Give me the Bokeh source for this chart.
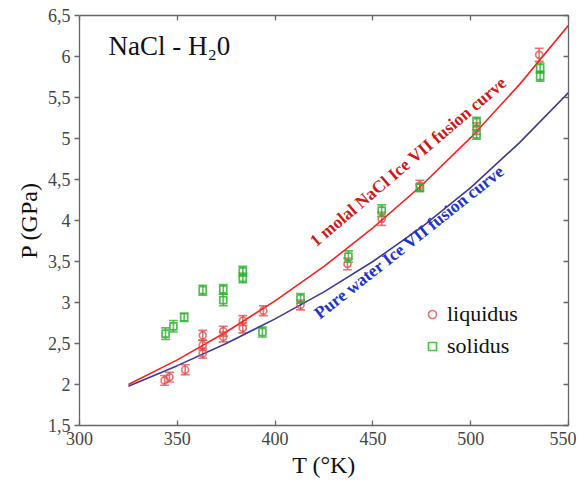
from bokeh.plotting import figure
from bokeh.models import (ColumnDataSource, Whisker, LinearAxis, Range1d, Legend,
                          LegendItem, FixedTicker, TeeHead)
from bokeh.core.properties import value
from bokeh.embed import file_html
from bokeh.resources import INLINE

# ---- data ----
liq_T = [343.5, 346, 354, 363, 363, 363, 373.5, 373.5, 383.5, 383.5, 394, 413, 437, 454.5, 474, 503, 535]
liq_P = [2.05, 2.09, 2.18, 2.38, 2.48, 2.60, 2.58, 2.65, 2.69, 2.78, 2.90, 2.97, 3.47, 4.02, 4.43, 5.12, 6.02]
liq_err = [0.06, 0.06, 0.06, 0.06, 0.06, 0.06, 0.06, 0.06, 0.06, 0.06, 0.06, 0.06, 0.07, 0.08, 0.06, 0.07, 0.08]

sol_T = [344, 348, 353.5, 363, 373.5, 373.5, 383.5, 383.5, 393.5, 413, 437.5, 454.5, 474, 503, 503, 535.5, 535.5]
sol_P = [2.62, 2.71, 2.82, 3.15, 3.03, 3.16, 3.30, 3.38, 2.64, 3.05, 3.56, 4.12, 4.40, 5.05, 5.20, 5.76, 5.86]
sol_err = [0.07, 0.07, 0.05, 0.06, 0.07, 0.06, 0.06, 0.06, 0.06, 0.06, 0.07, 0.07, 0.05, 0.06, 0.06, 0.06, 0.06]

curve_T = [325, 350, 375, 400, 425, 450, 475, 500, 525, 550]
nacl_curve_P = [2.00, 2.30, 2.64, 3.02, 3.44, 3.91, 4.43, 5.01, 5.66, 6.38]
pure_curve_P = [1.98, 2.23, 2.50, 2.80, 3.13, 3.50, 3.92, 4.40, 4.95, 5.56]

x_ticks = [300, 350, 400, 450, 500, 550]
y_ticks = [1.5, 2, 2.5, 3, 3.5, 4, 4.5, 5, 5.5, 6, 6.5]
y_tick_labels = ["1,5", "2", "2,5", "3", "3,5", "4", "4,5", "5", "5,5", "6", "6,5"]

title_text = "NaCl - H\u20820"
nacl_label = "1 molal NaCl Ice VII fusion curve"
pure_label = "Pure water Ice VII fusion curve"

SERIF = "Liberation Serif"
AXIS_COL = "#666666"
LBL_COL = "#444444"

p = figure(width=576, height=485, x_range=Range1d(300, 550), y_range=Range1d(1.5, 6.5),
           output_backend="svg", toolbar_location=None,
           min_border_left=79, min_border_right=8, min_border_top=15, min_border_bottom=60)
p.grid.visible = False
p.outline_line_color = None
p.background_fill_color = "white"

# main axes
for ax in (p.xaxis[0], p.yaxis[0]):
    ax.axis_line_color = AXIS_COL
    ax.axis_line_width = 1.3
    ax.major_tick_line_color = AXIS_COL
    ax.major_tick_line_width = 1.3
    ax.minor_tick_line_color = None
    ax.major_label_text_font = SERIF
    ax.major_label_text_font_size = "18px"
    ax.major_label_text_color = LBL_COL
    ax.axis_label_text_font = SERIF
    ax.axis_label_text_font_size = "24px"
    ax.axis_label_text_font_style = "normal"
    ax.axis_label_text_color = "#111111"

p.xaxis.ticker = FixedTicker(ticks=x_ticks)
p.xaxis.major_tick_in = 5
p.xaxis.major_tick_out = 0
p.xaxis.major_label_standoff = 6
p.xaxis.axis_label = "T (\u00b0K)"
p.xaxis.axis_label_standoff = 4

p.yaxis.ticker = FixedTicker(ticks=y_ticks)
p.yaxis.major_label_overrides = {t: l for t, l in zip(y_ticks, y_tick_labels)}
p.yaxis.major_tick_in = 0
p.yaxis.major_tick_out = 5
p.yaxis.major_label_standoff = 4
p.yaxis.axis_label = "P (GPa)"
p.yaxis.axis_label_standoff = 3

# frame axes (top / right) with inward ticks
top = LinearAxis(ticker=FixedTicker(ticks=x_ticks), major_tick_in=5, major_tick_out=0,
                 major_label_text_font_size="1px", major_label_standoff=0,
                 major_label_text_alpha=0, axis_line_color=AXIS_COL, axis_line_width=1.3,
                 major_tick_line_color=AXIS_COL, major_tick_line_width=1.3,
                 minor_tick_line_color=None)
right = LinearAxis(ticker=FixedTicker(ticks=y_ticks), major_tick_in=5, major_tick_out=0,
                   major_label_text_font_size="1px", major_label_standoff=0,
                   major_label_text_alpha=0, axis_line_color=AXIS_COL, axis_line_width=1.3,
                   major_tick_line_color=AXIS_COL, major_tick_line_width=1.3,
                   minor_tick_line_color=None)
p.add_layout(top, "above")
p.add_layout(right, "right")

# fusion curves
p.line(curve_T, nacl_curve_P, line_color="#ff1f1f", line_width=1.6)
p.line(curve_T, pure_curve_P, line_color="#3c3c96", line_width=1.6)

# data with error bars
liq_src = ColumnDataSource(dict(T=liq_T, P=liq_P,
                                up=[a + e for a, e in zip(liq_P, liq_err)],
                                lo=[a - e for a, e in zip(liq_P, liq_err)]))
sol_src = ColumnDataSource(dict(T=sol_T, P=sol_P,
                                up=[a + e for a, e in zip(sol_P, sol_err)],
                                lo=[a - e for a, e in zip(sol_P, sol_err)]))

RED = "#e04a4a"
GREEN = "#2fb12f"

p.add_layout(Whisker(source=liq_src, base="T", upper="up", lower="lo",
                     line_color=RED, line_alpha=0.75, line_width=1.6,
                     upper_head=TeeHead(size=9, line_color=RED, line_alpha=0.75, line_width=1.6),
                     lower_head=TeeHead(size=9, line_color=RED, line_alpha=0.75, line_width=1.6)))
p.add_layout(Whisker(source=sol_src, base="T", upper="up", lower="lo",
                     line_color=GREEN, line_alpha=0.8, line_width=1.6,
                     upper_head=TeeHead(size=9, line_color=GREEN, line_alpha=0.8, line_width=1.6),
                     lower_head=TeeHead(size=9, line_color=GREEN, line_alpha=0.8, line_width=1.6)))

r_liq = p.scatter("T", "P", source=liq_src, marker="circle", size=7, fill_color=None,
                  line_color=RED, line_alpha=0.75, line_width=1.7)
r_sol = p.scatter("T", "P", source=sol_src, marker="square", size=7, fill_color=None,
                  line_color=GREEN, line_alpha=0.85, line_width=1.7)

# text annotations
p.text(x=[314.8], y=[6.13], text=[title_text], text_font=value(SERIF), text_font_size="27px",
       text_color="#111111", text_align="left", text_baseline="middle")
p.text(x=[468.0], y=[4.72], text=[nacl_label], text_font=value(SERIF), text_font_size="17.5px",
       text_font_style="bold", text_color="#d01818", text_align="center",
       text_baseline="middle", angle=0.705)
p.text(x=[468.5], y=[3.74], text=[pure_label], text_font=value(SERIF), text_font_size="17.5px",
       text_font_style="bold", text_color="#2233cc", text_align="center",
       text_baseline="middle", angle=0.668)

legend = Legend(items=[LegendItem(label="liquidus", renderers=[r_liq]),
                       LegendItem(label="solidus", renderers=[r_sol])],
                location=(343, 66), background_fill_alpha=0, border_line_color=None,
                padding=0, margin=0, spacing=6, glyph_width=20, glyph_height=20,
                label_height=24, label_standoff=5, label_text_font=SERIF,
                label_text_font_size="22px", label_text_color="#111111")
p.add_layout(legend)

open("out.html", "w").write(file_html(p, INLINE))
